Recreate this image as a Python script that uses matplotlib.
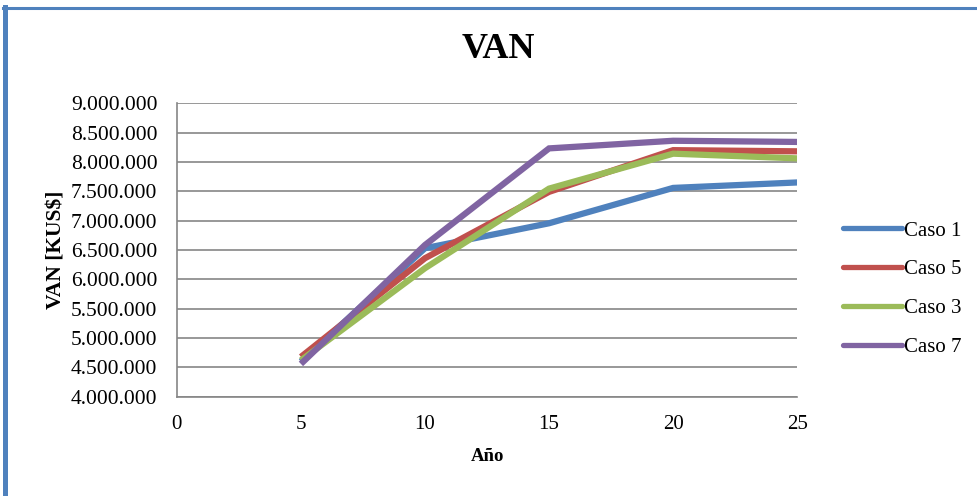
import matplotlib
matplotlib.use("Agg")
import matplotlib.pyplot as plt
from matplotlib.lines import Line2D
from matplotlib.ticker import FuncFormatter, MultipleLocator

plt.rcParams['font.family'] = ['Liberation Serif', 'DejaVu Serif']

# years evaluated
anios = [5, 10, 15, 20, 25]

# VAN per case [KUS$]
caso1 = [4600000, 6530000, 6955000, 7557000, 7650000]
caso5 = [4680000, 6360000, 7490000, 8200000, 8180000]
caso3 = [4620000, 6190000, 7545000, 8140000, 8060000]
caso7 = [4560000, 6585000, 8230000, 8360000, 8340000]

series = [
    ("Caso 1", caso1, "#4F81BD"),
    ("Caso 5", caso5, "#C0504D"),
    ("Caso 3", caso3, "#9BBB59"),
    ("Caso 7", caso7, "#8064A2"),
]

fig = plt.figure(figsize=(9.77, 4.96), dpi=100)
ax = fig.add_axes([0.181, 0.200, 0.635, 0.592])

for nombre, valores, color in series:
    ax.plot(anios, valores, color=color, linewidth=4.5, label=nombre,
            solid_capstyle='butt', solid_joinstyle='miter')

ax.set_xlim(0, 25)
ax.set_ylim(4000000, 9000000)
ax.xaxis.set_major_locator(MultipleLocator(5))
ax.yaxis.set_major_locator(MultipleLocator(500000))
ax.yaxis.set_major_formatter(FuncFormatter(lambda v, p: f"{v:,.0f}".replace(",", ".")))

ax.grid(axis='y', color='#868686', linewidth=1.2)
ax.set_axisbelow(True)
for lado in ['top', 'right']:
    ax.spines[lado].set_visible(False)
for lado in ['left', 'bottom']:
    ax.spines[lado].set_color('#868686')
    ax.spines[lado].set_linewidth(1.2)

ax.tick_params(axis='y', length=0, pad=14, labelsize=15.5)
ax.tick_params(axis='x', length=0, pad=13, labelsize=15)

ax.set_xlabel("Año", fontsize=13.5, fontweight='bold', labelpad=10)
ax.set_ylabel("VAN [KUS$]", fontsize=15.5, fontweight='bold', labelpad=3)
fig.text(0.51, 0.90, "VAN", fontsize=26, fontweight='bold', ha='center', va='center')

leg = fig.legend(loc='center left', bbox_to_anchor=(0.844, 0.417), frameon=False,
                 fontsize=15, handlelength=2.8, handletextpad=0.1, labelspacing=0.93)
for linea in leg.get_lines():
    linea.set_linewidth(3.8)
    linea.set_solid_capstyle('round')

# frame of the chart object
fig.add_artist(Line2D([0.0056, 0.0056], [0.0, 0.986], color='#4F81BD', linewidth=3.6,
                      transform=fig.transFigure))
fig.add_artist(Line2D([0.003, 1.0], [0.983, 0.983], color='#4F81BD', linewidth=2.2,
                      transform=fig.transFigure))

fig.savefig("out.png", dpi=100)
